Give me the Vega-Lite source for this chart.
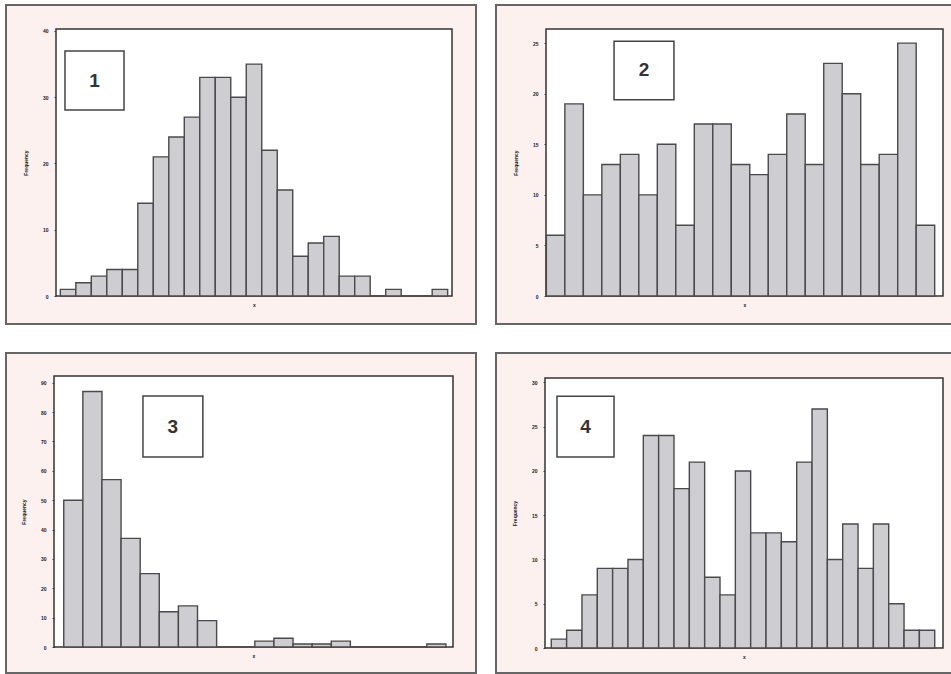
{
  "$schema": "https://vega.github.io/schema/vega-lite/v6.json",
  "background": "white",
  "padding": {"left": 5, "top": 4, "right": 0, "bottom": 0},
  "spacing": 27,
  "config": {
    "view": {"fill": "#fcf1ee", "stroke": "#666666", "strokeWidth": 2},
    "axis": {
      "labelFont": "Liberation Sans",
      "labelFontSize": 5,
      "labelFontWeight": "bold",
      "labelColor": "#222222",
      "labelOverlap": false,
      "labelBound": false,
      "titleFont": "Liberation Sans",
      "titleFontSize": 5,
      "titleFontWeight": "bold",
      "titleColor": "#222222",
      "grid": false,
      "domain": false
    }
  },
  "datasets": {
    "h1": [
      {"b": 0, "e": 1, "c": 1}, {"b": 1, "e": 2, "c": 2}, {"b": 2, "e": 3, "c": 3}, {"b": 3, "e": 4, "c": 4},
      {"b": 4, "e": 5, "c": 4}, {"b": 5, "e": 6, "c": 14}, {"b": 6, "e": 7, "c": 21}, {"b": 7, "e": 8, "c": 24},
      {"b": 8, "e": 9, "c": 27}, {"b": 9, "e": 10, "c": 33}, {"b": 10, "e": 11, "c": 33}, {"b": 11, "e": 12, "c": 30},
      {"b": 12, "e": 13, "c": 35}, {"b": 13, "e": 14, "c": 22}, {"b": 14, "e": 15, "c": 16}, {"b": 15, "e": 16, "c": 6},
      {"b": 16, "e": 17, "c": 8}, {"b": 17, "e": 18, "c": 9}, {"b": 18, "e": 19, "c": 3}, {"b": 19, "e": 20, "c": 3},
      {"b": 20, "e": 21, "c": 0}, {"b": 21, "e": 22, "c": 1}, {"b": 22, "e": 23, "c": 0}, {"b": 23, "e": 24, "c": 0},
      {"b": 24, "e": 25, "c": 1}
    ],
    "h2": [
      {"b": 0, "e": 1, "c": 6}, {"b": 1, "e": 2, "c": 19}, {"b": 2, "e": 3, "c": 10}, {"b": 3, "e": 4, "c": 13},
      {"b": 4, "e": 5, "c": 14}, {"b": 5, "e": 6, "c": 10}, {"b": 6, "e": 7, "c": 15}, {"b": 7, "e": 8, "c": 7},
      {"b": 8, "e": 9, "c": 17}, {"b": 9, "e": 10, "c": 17}, {"b": 10, "e": 11, "c": 13}, {"b": 11, "e": 12, "c": 12},
      {"b": 12, "e": 13, "c": 14}, {"b": 13, "e": 14, "c": 18}, {"b": 14, "e": 15, "c": 13}, {"b": 15, "e": 16, "c": 23},
      {"b": 16, "e": 17, "c": 20}, {"b": 17, "e": 18, "c": 13}, {"b": 18, "e": 19, "c": 14}, {"b": 19, "e": 20, "c": 25},
      {"b": 20, "e": 21, "c": 7}
    ],
    "h3": [
      {"b": 0, "e": 1, "c": 50}, {"b": 1, "e": 2, "c": 87}, {"b": 2, "e": 3, "c": 57}, {"b": 3, "e": 4, "c": 37},
      {"b": 4, "e": 5, "c": 25}, {"b": 5, "e": 6, "c": 12}, {"b": 6, "e": 7, "c": 14}, {"b": 7, "e": 8, "c": 9},
      {"b": 8, "e": 9, "c": 0}, {"b": 9, "e": 10, "c": 0}, {"b": 10, "e": 11, "c": 2}, {"b": 11, "e": 12, "c": 3},
      {"b": 12, "e": 13, "c": 1}, {"b": 13, "e": 14, "c": 1}, {"b": 14, "e": 15, "c": 2}, {"b": 15, "e": 16, "c": 0},
      {"b": 16, "e": 17, "c": 0}, {"b": 17, "e": 18, "c": 0}, {"b": 18, "e": 19, "c": 0}, {"b": 19, "e": 20, "c": 1}
    ],
    "h4": [
      {"b": 0, "e": 1, "c": 1}, {"b": 1, "e": 2, "c": 2}, {"b": 2, "e": 3, "c": 6}, {"b": 3, "e": 4, "c": 9},
      {"b": 4, "e": 5, "c": 9}, {"b": 5, "e": 6, "c": 10}, {"b": 6, "e": 7, "c": 24}, {"b": 7, "e": 8, "c": 24},
      {"b": 8, "e": 9, "c": 18}, {"b": 9, "e": 10, "c": 21}, {"b": 10, "e": 11, "c": 8}, {"b": 11, "e": 12, "c": 6},
      {"b": 12, "e": 13, "c": 20}, {"b": 13, "e": 14, "c": 13}, {"b": 14, "e": 15, "c": 13}, {"b": 15, "e": 16, "c": 12},
      {"b": 16, "e": 17, "c": 21}, {"b": 17, "e": 18, "c": 27}, {"b": 18, "e": 19, "c": 10}, {"b": 19, "e": 20, "c": 14},
      {"b": 20, "e": 21, "c": 9}, {"b": 21, "e": 22, "c": 14}, {"b": 22, "e": 23, "c": 5}, {"b": 23, "e": 24, "c": 2},
      {"b": 24, "e": 25, "c": 2}
    ]
  },
  "vconcat": [
    {
      "spacing": 18,
      "hconcat": [
        {
          "width": 470, "height": 319,
          "layer": [
            {
              "data": {"values": [{}]},
              "mark": {"type": "rect", "fill": "white", "stroke": "#333333", "strokeWidth": 1.5},
              "encoding": {
                "x": {"datum": -0.28, "type": "quantitative",
                  "scale": {"domain": [-0.28, 25.28], "range": [50, 446], "nice": false, "zero": false},
                  "axis": {"orient": "bottom", "offset": -28, "labels": false, "ticks": false, "title": "x", "titlePadding": 6}},
                "x2": {"datum": 25.28},
                "y": {"datum": 0, "type": "quantitative",
                  "scale": {"domain": [0, 40.3], "range": [291, 24], "nice": false, "zero": false},
                  "axis": {"orient": "left", "offset": -50, "values": [0, 10, 20, 30, 40], "tickCount": 20, "format": "d", "tickSize": 2, "tickColor": "#444", "labelPadding": 6, "title": "Frequency", "titlePadding": 14}},
                "y2": {"datum": 40.3}
              }
            },
            {
              "data": {"name": "h1"},
              "mark": {"type": "rect", "fill": "#cdcdd2", "stroke": "#4a4a4a", "strokeWidth": 1.4},
              "encoding": {
                "x": {"field": "b", "type": "quantitative",
                  "axis": {"orient": "bottom", "offset": -28, "labels": false, "ticks": false, "title": "x", "titlePadding": 6}},
                "x2": {"field": "e"},
                "y": {"field": "c", "type": "quantitative",
                  "axis": {"orient": "left", "offset": -50, "values": [0, 10, 20, 30, 40], "tickCount": 20, "format": "d", "tickSize": 2, "tickColor": "#444", "labelPadding": 6, "title": "Frequency", "titlePadding": 14}},
                "y2": {"datum": 0}
              }
            },
            {
              "data": {"values": [{}]},
              "mark": {"type": "rect", "fill": "white", "stroke": "#444444", "strokeWidth": 1.5},
              "encoding": {
                "x": {"datum": 0.30, "type": "quantitative"}, "x2": {"datum": 4.11},
                "y": {"datum": 36.98, "type": "quantitative"}, "y2": {"datum": 28.08}
              }
            },
            {
              "data": {"values": [{}]},
              "mark": {"type": "text", "text": "1", "font": "Liberation Sans", "fontWeight": "bold", "fontSize": 19, "color": "#333333", "baseline": "middle", "align": "center"},
              "encoding": {
                "x": {"datum": 2.2, "type": "quantitative"},
                "y": {"datum": 32.5, "type": "quantitative"}
              }
            }
          ]
        },
        {
          "width": 457, "height": 319,
          "layer": [
            {
              "data": {"values": [{}]},
              "mark": {"type": "rect", "fill": "white", "stroke": "#333333", "strokeWidth": 1.5},
              "encoding": {
                "x": {"datum": -0.02, "type": "quantitative",
                  "scale": {"domain": [-0.02, 21.45], "range": [50, 447], "nice": false, "zero": false},
                  "axis": {"orient": "bottom", "offset": -28, "labels": false, "ticks": false, "title": "x", "titlePadding": 6}},
                "x2": {"datum": 21.45},
                "y": {"datum": 0, "type": "quantitative",
                  "scale": {"domain": [0, 26.4], "range": [291, 24], "nice": false, "zero": false},
                  "axis": {"orient": "left", "offset": -50, "values": [0, 5, 10, 15, 20, 25], "tickCount": 20, "format": "d", "tickSize": 2, "tickColor": "#444", "labelPadding": 6, "title": "Frequency", "titlePadding": 14}},
                "y2": {"datum": 26.4}
              }
            },
            {
              "data": {"name": "h2"},
              "mark": {"type": "rect", "fill": "#cdcdd2", "stroke": "#4a4a4a", "strokeWidth": 1.4},
              "encoding": {
                "x": {"field": "b", "type": "quantitative",
                  "axis": {"orient": "bottom", "offset": -28, "labels": false, "ticks": false, "title": "x", "titlePadding": 6}},
                "x2": {"field": "e"},
                "y": {"field": "c", "type": "quantitative",
                  "axis": {"orient": "left", "offset": -50, "values": [0, 5, 10, 15, 20, 25], "tickCount": 20, "format": "d", "tickSize": 2, "tickColor": "#444", "labelPadding": 6, "title": "Frequency", "titlePadding": 14}},
                "y2": {"datum": 0}
              }
            },
            {
              "data": {"values": [{}]},
              "mark": {"type": "rect", "fill": "white", "stroke": "#444444", "strokeWidth": 1.5},
              "encoding": {
                "x": {"datum": 3.66, "type": "quantitative"}, "x2": {"datum": 6.90},
                "y": {"datum": 25.2, "type": "quantitative"}, "y2": {"datum": 19.4}
              }
            },
            {
              "data": {"values": [{}]},
              "mark": {"type": "text", "text": "2", "font": "Liberation Sans", "fontWeight": "bold", "fontSize": 19, "color": "#333333", "baseline": "middle", "align": "center"},
              "encoding": {
                "x": {"datum": 5.28, "type": "quantitative"},
                "y": {"datum": 22.3, "type": "quantitative"}
              }
            }
          ]
        }
      ]
    },
    {
      "spacing": 18,
      "hconcat": [
        {
          "width": 470, "height": 320,
          "layer": [
            {
              "data": {"values": [{}]},
              "mark": {"type": "rect", "fill": "white", "stroke": "#333333", "strokeWidth": 1.5},
              "encoding": {
                "x": {"datum": -0.51, "type": "quantitative",
                  "scale": {"domain": [-0.51, 20.37], "range": [48, 447], "nice": false, "zero": false},
                  "axis": {"orient": "bottom", "offset": -26, "labels": false, "ticks": false, "title": "x", "titlePadding": 6}},
                "x2": {"datum": 20.37},
                "y": {"datum": 0, "type": "quantitative",
                  "scale": {"domain": [0, 92.3], "range": [294, 23], "nice": false, "zero": false},
                  "axis": {"orient": "left", "offset": -48, "values": [0, 10, 20, 30, 40, 50, 60, 70, 80, 90], "tickCount": 20, "format": "d", "tickSize": 2, "tickColor": "#444", "labelPadding": 6, "title": "Frequency", "titlePadding": 14}},
                "y2": {"datum": 92.3}
              }
            },
            {
              "data": {"name": "h3"},
              "mark": {"type": "rect", "fill": "#cdcdd2", "stroke": "#4a4a4a", "strokeWidth": 1.4},
              "encoding": {
                "x": {"field": "b", "type": "quantitative",
                  "axis": {"orient": "bottom", "offset": -26, "labels": false, "ticks": false, "title": "x", "titlePadding": 6}},
                "x2": {"field": "e"},
                "y": {"field": "c", "type": "quantitative",
                  "axis": {"orient": "left", "offset": -48, "values": [0, 10, 20, 30, 40, 50, 60, 70, 80, 90], "tickCount": 20, "format": "d", "tickSize": 2, "tickColor": "#444", "labelPadding": 6, "title": "Frequency", "titlePadding": 14}},
                "y2": {"datum": 0}
              }
            },
            {
              "data": {"values": [{}]},
              "mark": {"type": "rect", "fill": "white", "stroke": "#444444", "strokeWidth": 1.5},
              "encoding": {
                "x": {"datum": 4.145, "type": "quantitative"}, "x2": {"datum": 7.28},
                "y": {"datum": 85.5, "type": "quantitative"}, "y2": {"datum": 64.7}
              }
            },
            {
              "data": {"values": [{}]},
              "mark": {"type": "text", "text": "3", "font": "Liberation Sans", "fontWeight": "bold", "fontSize": 19, "color": "#333333", "baseline": "middle", "align": "center"},
              "encoding": {
                "x": {"datum": 5.71, "type": "quantitative"},
                "y": {"datum": 75.1, "type": "quantitative"}
              }
            }
          ]
        },
        {
          "width": 457, "height": 320,
          "layer": [
            {
              "data": {"values": [{}]},
              "mark": {"type": "rect", "fill": "white", "stroke": "#333333", "strokeWidth": 1.5},
              "encoding": {
                "x": {"datum": -0.41, "type": "quantitative",
                  "scale": {"domain": [-0.41, 25.54], "range": [49, 447], "nice": false, "zero": false},
                  "axis": {"orient": "bottom", "offset": -25, "labels": false, "ticks": false, "title": "x", "titlePadding": 6}},
                "x2": {"datum": 25.54},
                "y": {"datum": 0, "type": "quantitative",
                  "scale": {"domain": [0, 30.5], "range": [295, 25], "nice": false, "zero": false},
                  "axis": {"orient": "left", "offset": -49, "values": [0, 5, 10, 15, 20, 25, 30], "tickCount": 20, "format": "d", "tickSize": 2, "tickColor": "#444", "labelPadding": 6, "title": "Frequency", "titlePadding": 14}},
                "y2": {"datum": 30.5}
              }
            },
            {
              "data": {"name": "h4"},
              "mark": {"type": "rect", "fill": "#cdcdd2", "stroke": "#4a4a4a", "strokeWidth": 1.4},
              "encoding": {
                "x": {"field": "b", "type": "quantitative",
                  "axis": {"orient": "bottom", "offset": -25, "labels": false, "ticks": false, "title": "x", "titlePadding": 6}},
                "x2": {"field": "e"},
                "y": {"field": "c", "type": "quantitative",
                  "axis": {"orient": "left", "offset": -49, "values": [0, 5, 10, 15, 20, 25, 30], "tickCount": 20, "format": "d", "tickSize": 2, "tickColor": "#444", "labelPadding": 6, "title": "Frequency", "titlePadding": 14}},
                "y2": {"datum": 0}
              }
            },
            {
              "data": {"values": [{}]},
              "mark": {"type": "rect", "fill": "white", "stroke": "#444444", "strokeWidth": 1.5},
              "encoding": {
                "x": {"datum": 0.373, "type": "quantitative"}, "x2": {"datum": 4.09},
                "y": {"datum": 28.45, "type": "quantitative"}, "y2": {"datum": 21.57}
              }
            },
            {
              "data": {"values": [{}]},
              "mark": {"type": "text", "text": "4", "font": "Liberation Sans", "fontWeight": "bold", "fontSize": 19, "color": "#333333", "baseline": "middle", "align": "center"},
              "encoding": {
                "x": {"datum": 2.23, "type": "quantitative"},
                "y": {"datum": 25.0, "type": "quantitative"}
              }
            }
          ]
        }
      ]
    }
  ]
}
